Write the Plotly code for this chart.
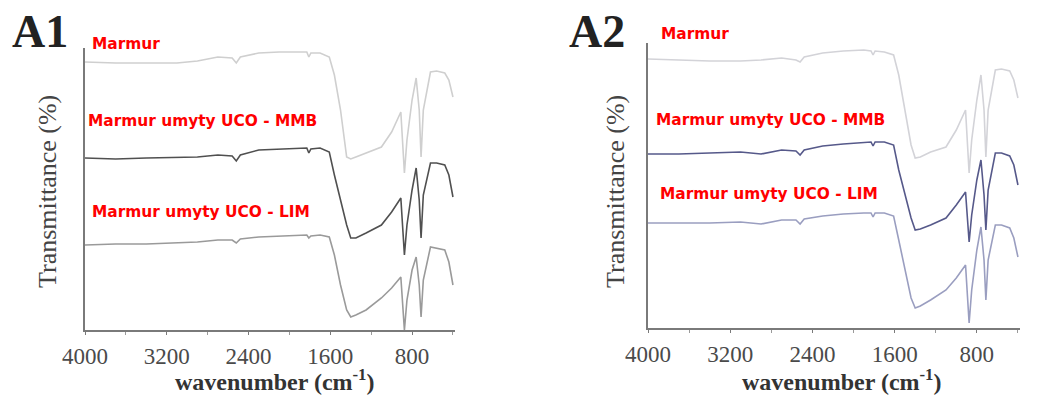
import plotly.graph_objects as go

# Wavenumber grid (cm-1)
wavenumber = [4000, 3700, 3400, 3100, 2900, 2700, 2560, 2520, 2480, 2300,
              2100, 1900, 1830, 1810, 1790, 1700, 1610, 1560, 1500, 1440,
              1400, 1350, 1250, 1100, 1000, 910, 875, 850, 800, 760,
              730, 712, 690, 620, 560, 480, 440, 400]

# Panel A1 (transmittance, arbitrary offset units)
a1_marmur = [268, 267, 267, 267, 269, 273, 272, 267, 273, 277,
             278, 278, 278, 273, 277, 277, 273, 255, 220, 173,
             171, 173, 177, 183, 198, 218, 157, 190, 230, 252,
             220, 173, 220, 258, 259, 257, 250, 233]
a1_mmb = [172, 171, 172, 173, 173, 175, 174, 169, 175, 180,
          181, 182, 182, 177, 181, 182, 178, 155, 130, 105,
          92, 92, 97, 105, 118, 132, 75, 105, 140, 162,
          130, 92, 135, 167, 167, 165, 155, 133]
a1_lim = [85, 86, 86, 87, 88, 90, 90, 87, 91, 93,
          94, 95, 95, 92, 94, 95, 93, 75, 45, 20,
          13, 15, 20, 32, 42, 53, 0, 30, 60, 73,
          45, 13, 50, 83, 82, 80, 68, 45]

# Panel A2
a2_marmur = [269, 268, 267, 267, 268, 270, 268, 266, 271, 275,
             277, 278, 277, 273, 277, 276, 273, 253, 218, 183,
             170, 171, 176, 181, 198, 218, 155, 188, 228, 253,
             218, 171, 218, 258, 259, 257, 248, 230]
a2_mmb = [174, 174, 175, 176, 174, 178, 177, 173, 178, 182,
          184, 186, 186, 182, 186, 186, 183, 158, 133, 110,
          98, 99, 103, 110, 123, 136, 86, 113, 148, 168,
          133, 98, 138, 175, 175, 172, 163, 143]
a2_lim = [105, 105, 105, 106, 104, 108, 108, 104, 109, 112,
          114, 115, 115, 111, 115, 115, 112, 88, 58, 30,
          20, 22, 28, 38, 50, 63, 5, 38, 78, 101,
          68, 28, 68, 103, 103, 100, 90, 71]

x_ticks = [4000, 3200, 2400, 1600, 800]
labels = ["Marmur", "Marmur umyty UCO - MMB", "Marmur umyty UCO - LIM"]

fig = go.Figure()

a1_colors = ["#cfcfcf", "#505050", "#9a9a9a"]
a2_colors = ["#d3d3d8", "#56598a", "#9a9ec0"]

for ys, c in zip([a1_marmur, a1_mmb, a1_lim], a1_colors):
    fig.add_trace(go.Scatter(x=wavenumber, y=ys, mode="lines",
                             line=dict(color=c, width=1.6),
                             xaxis="x", yaxis="y", showlegend=False))
for ys, c in zip([a2_marmur, a2_mmb, a2_lim], a2_colors):
    fig.add_trace(go.Scatter(x=wavenumber, y=ys, mode="lines",
                             line=dict(color=c, width=1.6),
                             xaxis="x2", yaxis="y2", showlegend=False))

W, H = 1058, 397

def xd(px):
    return px / W

def yd(py):
    return (H - py) / H

xcommon = dict(range=[4000, 380], tickvals=x_ticks, showgrid=False, zeroline=False,
               showline=True, linecolor="#7a7a7a", linewidth=1.5, automargin=False,
               ticks="outside", ticklen=3, tickcolor="#7a7a7a",
               minor=dict(dtick=400, tick0=0, ticks="outside", ticklen=3, tickcolor="#9a9a9a"),
               tickfont=dict(family="Liberation Serif", size=23, color="#4a4a4a"),
               ticklabelstandoff=2)
ycommon = dict(showgrid=False, zeroline=False, showticklabels=False, automargin=False,
               showline=True, linecolor="#7a7a7a", linewidth=1.5, ticks="")

fig.update_layout(
    width=W, height=H, margin=dict(l=0, r=0, t=0, b=0, autoexpand=False),
    paper_bgcolor="white", plot_bgcolor="white",
    xaxis=dict(domain=[xd(85), xd(455)], anchor="y", **xcommon),
    yaxis=dict(domain=[yd(330), yd(48)], range=[0, 282], anchor="x", **ycommon),
    xaxis2=dict(domain=[xd(648), xd(1020)], anchor="y2", **xcommon),
    yaxis2=dict(domain=[yd(328), yd(43)], range=[0, 285], anchor="x2", **ycommon),
)

ann = []
# panel letters
ann.append(dict(text="<b>A1</b>", x=xd(10), y=yd(32), xanchor="left", yanchor="middle"))
ann.append(dict(text="<b>A2</b>", x=xd(567), y=yd(32), xanchor="left", yanchor="middle"))
for a in ann:
    a.update(xref="paper", yref="paper", showarrow=False,
             font=dict(family="Liberation Serif", size=46, color="#222222"))

axis_font = dict(family="Liberation Serif", size=24, color="#333333")
ann += [
    dict(text="<b>wavenumber (cm<sup>-1</sup>)</b>", x=xd(275), y=yd(397),
         yanchor="bottom", font=axis_font),
    dict(text="<b>wavenumber (cm<sup>-1</sup>)</b>", x=xd(842), y=yd(397),
         yanchor="bottom", font=axis_font),
    dict(text="Transmittance (%)", x=xd(47), y=yd(192), textangle=-90,
         yanchor="middle", font=dict(family="Liberation Serif", size=26, color="#444444")),
    dict(text="Transmittance (%)", x=xd(615), y=yd(192), textangle=-90,
         yanchor="middle", font=dict(family="Liberation Serif", size=26, color="#444444")),
]
for a in ann[2:]:
    a.update(xref="paper", yref="paper", showarrow=False, xanchor="center")

label_pos = [
    (90, 44), (86, 121), (90, 212),
    (659, 34), (654, 120), (658, 194),
]
for i, (px, py) in enumerate(label_pos):
    ann.append(dict(text="<b>" + labels[i % 3] + "</b>", x=xd(px), y=yd(py),
                    xref="paper", yref="paper", showarrow=False,
                    xanchor="left", yanchor="middle",
                    font=dict(family="DejaVu Sans", size=15.4, color="#ff0000")))

fig.update_layout(annotations=ann)
fig.write_html("out.html")
